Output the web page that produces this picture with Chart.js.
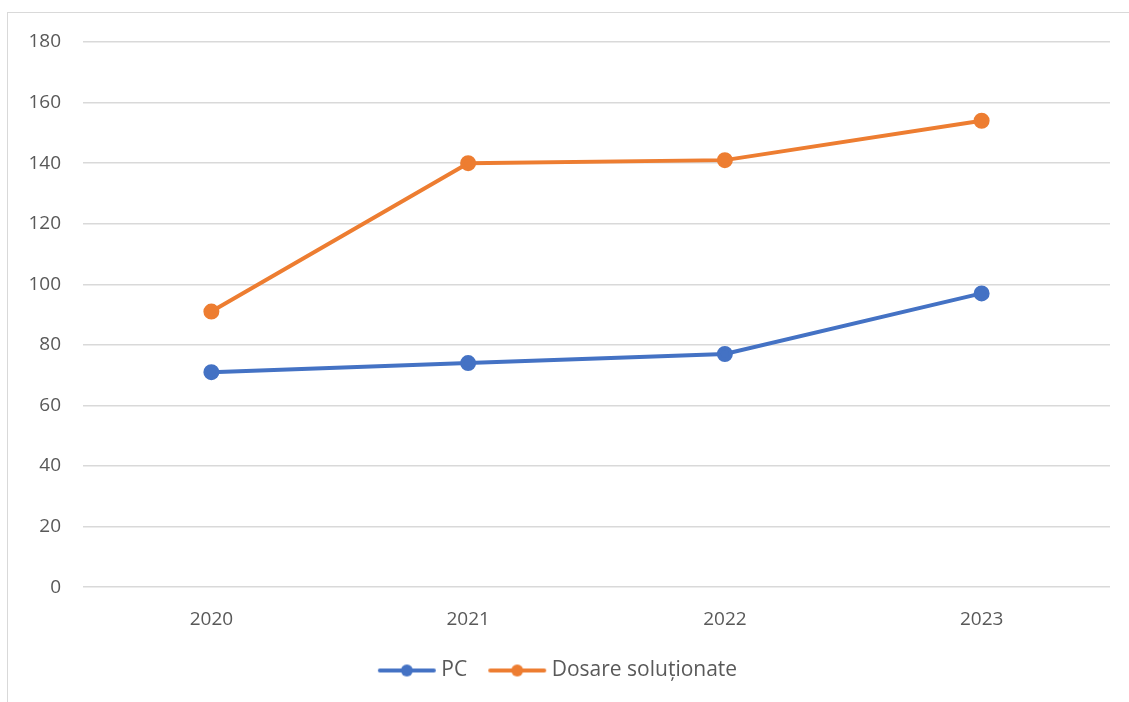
<!DOCTYPE html>
<html>
<head>
<meta charset="utf-8">
<script src="https://cdn.jsdelivr.net/npm/chart.js@4"></script>
<style>
html,body{margin:0;padding:0;background:#fff;}
#wrap{position:relative;width:1129px;height:702px;}
#frame{position:absolute;left:7px;top:12px;width:1130px;height:700px;border-left:1.5px solid #d9d9d9;border-top:1.5px solid #d9d9d9;pointer-events:none;}
canvas{position:absolute;left:0;top:0;}
</style>
</head>
<body>
<div id="wrap">
<canvas id="c" width="1129" height="702"></canvas>
<div id="frame"></div>
</div>
<script>
const categories = ["2020", "2021", "2022", "2023"];
const pcValues = [71, 74, 77, 97];
const dosareValues = [91, 140, 141, 154];
const seriesNames = ["PC", "Dosare soluționate"];

function legendIcon(color) {
  const c = document.createElement('canvas');
  c.width = 70; c.height = 14;
  const x = c.getContext('2d');
  x.strokeStyle = color; x.lineWidth = 4; x.lineCap = 'round';
  x.beginPath(); x.moveTo(13, 7); x.lineTo(67, 7); x.stroke();
  x.fillStyle = color;
  x.beginPath(); x.arc(40, 7, 6, 0, Math.PI * 2); x.fill();
  return c;
}

const font = "'Open Sans', 'Liberation Sans', sans-serif";
Chart.defaults.font.family = font;
Chart.defaults.color = '#595959';

new Chart(document.getElementById('c'), {
  type: 'line',
  data: {
    labels: categories,
    datasets: [
      { label: seriesNames[0], data: pcValues, borderColor: '#4472C4', backgroundColor: '#4472C4',
        borderWidth: 4, pointRadius: 6, pointHoverRadius: 6, pointStyle: 'circle', tension: 0,
        legendIcon: legendIcon('#4472C4') },
      { label: seriesNames[1], data: dosareValues, borderColor: '#ED7D31', backgroundColor: '#ED7D31',
        borderWidth: 4, pointRadius: 6, pointHoverRadius: 6, pointStyle: 'circle', tension: 0,
        legendIcon: legendIcon('#ED7D31') }
    ]
  },
  options: {
    responsive: false,
    animation: false,
    layout: { padding: { top: 42, right: 19, left: 0, bottom: 11 } },
    plugins: {
      tooltip: { enabled: false },
      legend: {
        position: 'bottom',
        labels: {
          usePointStyle: true,
          pointStyleWidth: 58,
          boxHeight: 14,
          padding: 16,
          color: '#595959',
          font: { size: 21, family: font },
          generateLabels(chart) {
            return chart.data.datasets.map((ds, i) => ({
              text: ds.label, pointStyle: ds.legendIcon, fillStyle: ds.borderColor,
              strokeStyle: ds.borderColor, lineWidth: 0, datasetIndex: i, fontColor: '#595959'
            }));
          }
        }
      }
    },
    scales: {
      x: {
        offset: true,
        grid: { display: false },
        border: { display: false },
        ticks: { padding: 13, color: '#595959', font: { size: 19 } }
      },
      y: {
        min: 0, max: 180,
        ticks: { stepSize: 20, padding: 22, color: '#595959', font: { size: 19 } },
        grid: { color: '#d9d9d9', lineWidth: 1.5, drawTicks: false },
        border: { display: false },
        afterFit(s) { s.width = 83; }
      }
    }
  }
});
</script>
</body>
</html>
